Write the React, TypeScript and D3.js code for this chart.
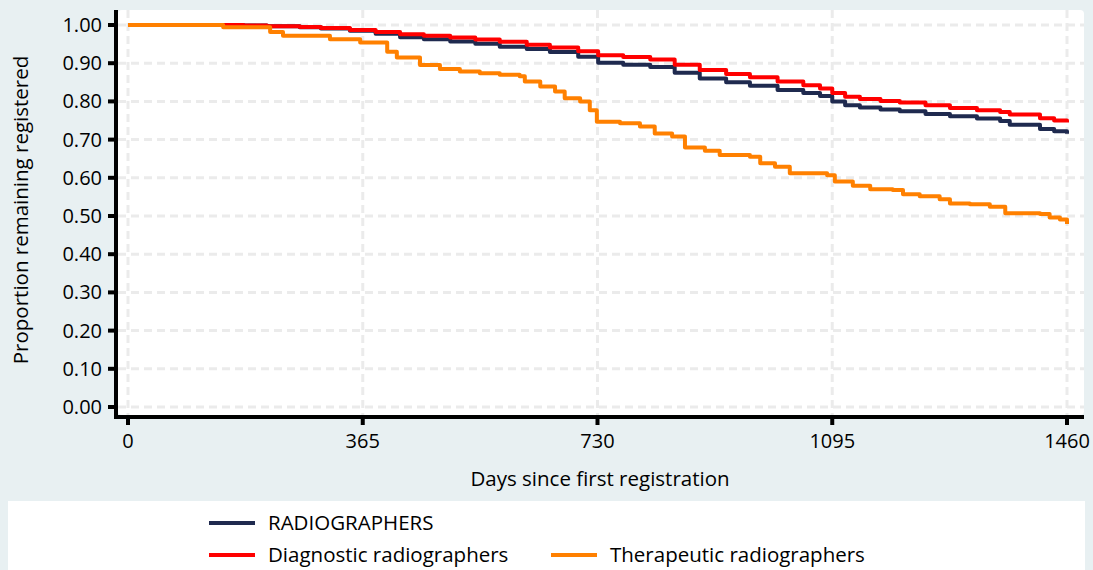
import React from 'react';
import * as d3 from 'd3';

// Kaplan-Meier style retention curves
const dayTicks = [0, 365, 730, 1095, 1460];
const yTicks = [0, 0.1, 0.2, 0.3, 0.4, 0.5, 0.6, 0.7, 0.8, 0.9, 1.0];

const allDays = [0, 150, 180, 216, 267, 300, 345, 385, 423, 460, 501, 540, 578, 620, 656, 700, 731, 770, 812, 850, 889, 930, 967, 1010, 1050, 1076, 1095, 1115, 1138, 1170, 1200, 1240, 1278, 1320, 1356, 1371, 1418, 1440, 1460];
const allValues = [1.0, 1.0, 0.999, 0.997, 0.994, 0.991, 0.985, 0.977, 0.968, 0.963, 0.957, 0.951, 0.943, 0.937, 0.929, 0.917, 0.901, 0.896, 0.89, 0.875, 0.86, 0.85, 0.841, 0.83, 0.822, 0.814, 0.8, 0.79, 0.784, 0.779, 0.774, 0.767, 0.761, 0.755, 0.749, 0.739, 0.728, 0.722, 0.715];

const diagDays = allDays;
const diagValues = [1.0, 1.0, 0.999, 0.997, 0.995, 0.992, 0.987, 0.982, 0.976, 0.972, 0.967, 0.962, 0.956, 0.948, 0.941, 0.931, 0.921, 0.916, 0.91, 0.896, 0.882, 0.872, 0.863, 0.852, 0.842, 0.834, 0.822, 0.812, 0.806, 0.801, 0.797, 0.79, 0.783, 0.777, 0.772, 0.766, 0.756, 0.75, 0.745];

const therDays = [0, 148, 221, 241, 314, 361, 403, 418, 454, 485, 516, 547, 578, 609, 617, 641, 664, 679, 703, 718, 729, 765, 796, 819, 846, 866, 897, 920, 967, 983, 1006, 1029, 1087, 1099, 1127, 1154, 1189, 1205, 1231, 1262, 1278, 1309, 1340, 1364, 1418, 1433, 1449, 1460];
const therValues = [1.0, 0.994, 0.982, 0.972, 0.963, 0.954, 0.93, 0.915, 0.895, 0.885, 0.878, 0.874, 0.87, 0.866, 0.852, 0.839, 0.826, 0.808, 0.8, 0.777, 0.747, 0.743, 0.734, 0.716, 0.708, 0.679, 0.671, 0.66, 0.655, 0.638, 0.629, 0.612, 0.607, 0.59, 0.579, 0.57, 0.568, 0.557, 0.552, 0.544, 0.533, 0.531, 0.524, 0.507, 0.505, 0.496, 0.491, 0.479];

const series = [
  { name: 'RADIOGRAPHERS', days: allDays, values: allValues, color: '#1f2a4f' },
  { name: 'Diagnostic radiographers', days: diagDays, values: diagValues, color: '#ff0000' },
  { name: 'Therapeutic radiographers', days: therDays, values: therValues, color: '#ff8000' },
];

const W = 1093, H = 570;
const FONT = '"Open Sans", sans-serif';
const FS = 20.5;   // titles, legend
const TFS = 20;    // tick labels

export default function App() {
  const x = d3.scaleLinear().domain([0, 1460]).range([128, 1067]);
  const y = d3.scaleLinear().domain([0, 1]).range([407, 25]);

  const line = d3.line<[number, number]>()
    .x(d => x(d[0]))
    .y(d => y(d[1]))
    .curve(d3.curveStepAfter);

  const grid = '#ebebeb';
  const axisX = 116, axisY = 417;

  return (
    <svg width={W} height={H} style={{ position: 'absolute', left: 0, top: 0, display: 'block' }}
      fontFamily={FONT}>
      <rect width={W} height={H} fill="#e8f0f2" />
      <rect x={118} y={10} width={966} height={405} rx={4} fill="#fff" />

      {/* gridlines */}
      {yTicks.map(t => (
        <line key={'gy' + t} x1={118} x2={1084} y1={y(t)} y2={y(t)}
          stroke={grid} strokeWidth={3} strokeDasharray="8 5" />
      ))}
      {dayTicks.map(t => (
        <line key={'gx' + t} x1={x(t)} x2={x(t)} y1={10} y2={415}
          stroke={grid} strokeWidth={3} strokeDasharray="8 5" />
      ))}

      {/* curves */}
      {series.map(s => (
        <path key={s.name} d={line(s.days.map((d, i) => [d, s.values[i]] as [number, number])) || ''}
          fill="none" stroke={s.color} strokeWidth={4} strokeLinejoin="round" />
      ))}

      {/* axes */}
      <line x1={axisX} x2={axisX} y1={10} y2={axisY + 2} stroke="#000" strokeWidth={4} />
      <line x1={axisX - 2} x2={1084} y1={axisY} y2={axisY} stroke="#000" strokeWidth={4} />
      {yTicks.map(t => (
        <g key={'ty' + t}>
          <line x1={108} x2={axisX} y1={y(t)} y2={y(t)} stroke="#000" strokeWidth={4} />
          <text x={102} y={y(t)} dy="0.35em" textAnchor="end" fontSize={TFS} fill="#000">
            {d3.format('.2f')(t)}
          </text>
        </g>
      ))}
      {dayTicks.map(t => (
        <g key={'tx' + t}>
          <line x1={x(t)} x2={x(t)} y1={axisY} y2={axisY + 8} stroke="#000" strokeWidth={4} />
          <text x={x(t)} y={448} textAnchor="middle" fontSize={TFS} fill="#000">{t}</text>
        </g>
      ))}

      <text x={600} y={486} textAnchor="middle" fontSize={FS} fill="#000">Days since first registration</text>
      <text transform="translate(28,210) rotate(-90)" textAnchor="middle" fontSize={FS} fill="#000">
        Proportion remaining registered
      </text>

      {/* legend */}
      <rect x={8} y={501} width={1077} height={75} fill="#fff" />
      {[
        { s: series[0], lx: 209, ly: 523 },
        { s: series[1], lx: 209, ly: 555 },
        { s: series[2], lx: 551, ly: 555 },
      ].map(({ s, lx, ly }) => (
        <g key={'lg' + s.name}>
          <line x1={lx} x2={lx + 46} y1={ly} y2={ly} stroke={s.color} strokeWidth={4} />
          <text x={lx + 59} y={ly} dy="0.35em" fontSize={FS} fill="#000">{s.name}</text>
        </g>
      ))}
    </svg>
  );
}
